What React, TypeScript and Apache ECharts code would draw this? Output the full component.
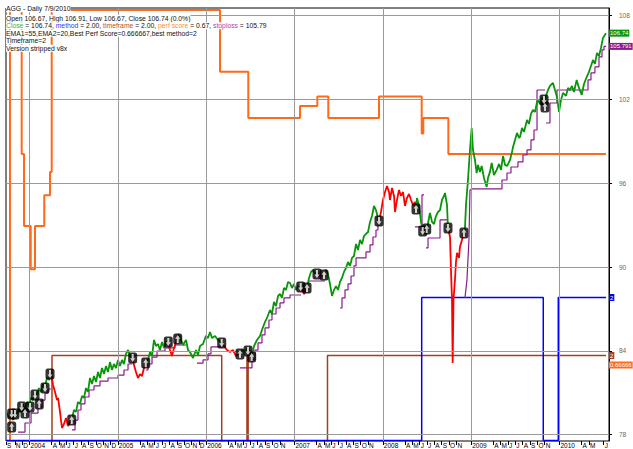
import React, { useEffect, useRef } from 'react';
import * as echarts from 'echarts';

const FONT = '"Liberation Sans", Arial, sans-serif';

// x axis: months since Sep 2003 (0 = 1 Sep 2003)
const xMin = 0.8;
const xMax = 82.73;
const priceMin = 77.55;
const priceMax = 108.54;
const priceTicks = [78, 84, 90, 96, 102, 108];
const yearStarts = [4, 16, 28, 40, 52, 64, 76];
const monthLetters = 'JFMAMJJASOND';
const hiddenMonthIdx = [1, 39, 51, 63, 75, 81];

// Close price [month, value]
const closePts: [number, number][] = [
  [0.94,79.55],[1.21,79.20],[1.48,79.77],[1.75,79.05],[2.02,79.63],[2.29,79.34],[2.57,79.91],[2.84,79.63],[3.11,80.20],[3.38,79.77],
  [3.65,80.34],[3.92,80.13],[4.20,80.63],[4.47,80.48],[4.74,81.06],[5.01,80.77],[5.28,81.34],[5.56,81.06],[5.83,81.63],[6.10,81.49],
  [6.37,82.06],[6.64,81.92],[6.91,82.49],[7.19,81.56],[7.46,81.06],[7.73,80.48],[7.87,80.63],[8.14,79.63],[8.27,79.05],[8.41,78.48],
  [8.68,78.77],[8.95,79.20],[9.22,78.62],[9.50,78.91],[9.77,79.20],[10.04,79.77],[10.31,79.63],[10.58,80.34],[10.85,80.20],[11.13,80.77],
  [11.40,80.63],[11.67,81.34],[11.94,81.06],[12.21,82.06],[12.48,81.63],[12.76,82.20],[13.03,81.77],[13.30,82.49],[13.57,82.06],[13.84,82.78],
  [14.12,82.35],[14.39,82.92],[14.66,82.49],[14.93,83.20],[15.20,82.63],[15.47,83.06],[15.75,82.77],[16.02,83.35],[16.29,82.92],[16.56,83.35],
  [16.83,83.06],[17.10,83.78],[17.38,84.06],[17.65,83.63],[17.92,83.49],[18.19,82.99],[18.46,82.49],[18.73,82.06],[19.01,82.34],[19.28,82.20],
  [19.55,82.78],[19.82,83.20],[20.09,83.35],[20.37,83.92],[20.64,83.63],[20.91,84.78],[21.18,84.35],[21.45,84.49],[21.72,84.06],[22.00,84.64],
  [22.27,84.21],[22.54,84.64],[22.81,84.64],[23.08,84.06],[23.35,83.63],[23.63,84.21],[23.90,84.64],[24.17,85.21],[24.44,84.99],[24.85,84.42],
  [25.26,84.78],[25.53,84.06],[25.80,83.92],[26.21,83.49],[26.62,84.06],[26.89,83.70],[27.16,84.35],[27.57,84.49],[27.97,85.07],[28.25,84.92],
  [28.52,85.35],[28.79,84.92],[29.20,85.07],[29.60,84.78],[30.01,84.64],[30.42,84.35],[30.83,84.06],[31.23,83.92],[31.64,84.06],[32.05,83.63],
  [32.46,83.85],[32.87,84.06],[33.27,83.92],[33.68,84.21],[33.95,83.92],[34.22,83.63],[34.50,84.35],[34.90,84.78],[35.31,85.07],[35.58,85.50],
  [35.99,86.07],[36.26,86.35],[36.67,86.93],[36.94,86.64],[37.21,87.50],[37.49,87.21],[37.76,87.93],[38.03,88.07],[38.30,87.79],[38.57,88.50],
  [38.84,88.36],[39.12,88.93],[39.39,88.86],[39.66,88.50],[39.93,88.79],[40.20,88.36],[40.47,88.64],[40.75,88.50],[41.02,88.36],[41.29,88.07],
  [41.70,88.50],[41.97,89.22],[42.24,89.65],[42.51,89.79],[42.78,89.50],[43.05,89.65],[43.33,89.36],[43.74,89.43],[44.01,89.65],[44.28,89.79],
  [44.55,89.50],[44.82,88.79],[45.09,87.93],[45.37,88.36],[45.64,88.64],[45.91,88.36],[46.18,88.93],[46.45,89.22],[46.72,89.65],[47.00,89.93],
  [47.27,90.36],[47.54,90.08],[47.81,90.65],[48.08,90.79],[48.36,91.65],[48.63,91.22],[48.90,91.94],[49.17,91.65],[49.44,92.22],[49.71,92.37],
  [49.99,92.51],[50.26,93.23],[50.53,93.65],[50.80,94.37],[51.07,94.08],[51.34,93.51],[51.48,93.30],[51.75,93.94],[52.02,94.80],[52.30,95.37],
  [52.57,95.80],[52.84,95.37],[52.97,94.80],[53.25,95.66],[53.52,95.09],[53.65,93.94],[53.92,94.80],[54.20,95.52],[54.47,95.09],[54.74,95.37],
  [55.01,94.37],[55.28,94.94],[55.56,95.23],[55.83,94.80],[56.10,94.44],[56.37,94.66],[56.51,94.16],[56.64,94.94],[56.92,94.37],[57.19,93.23],
  [57.46,92.65],[57.73,92.51],[58.00,92.72],[58.27,93.51],[58.41,93.87],[58.68,93.23],[58.95,93.08],[59.22,93.65],[59.50,93.94],[59.77,94.08],
  [60.04,94.80],[60.31,95.09],[60.45,95.30],[60.72,94.44],[60.85,92.80],[61.13,92.15],[61.26,89.79],[61.40,87.64],[61.49,83.13],[61.60,87.64],
  [61.80,89.07],[61.94,90.36],[62.08,91.01],[62.35,90.65],[62.48,91.44],[62.75,91.94],[63.02,92.44],[63.16,92.80],[63.30,94.44],[63.57,96.23],
  [63.84,98.38],[64.07,99.95],[64.25,98.38],[64.52,97.66],[64.75,96.73],[64.93,97.31],[65.20,96.81],[65.43,97.23],[65.74,96.38],[66.11,95.73],
  [66.29,96.38],[66.56,96.81],[66.79,97.45],[67.10,96.59],[67.47,96.95],[67.79,97.38],[68.06,96.95],[68.33,97.95],[68.60,97.31],[68.88,97.23],
  [69.28,97.66],[69.55,98.24],[69.69,98.59],[69.96,99.10],[70.23,99.60],[70.50,99.24],[70.64,99.31],[70.91,99.95],[71.18,99.67],[71.59,100.53],
  [71.86,100.24],[72.13,100.96],[72.40,101.24],[72.68,101.10],[72.95,101.82],[73.08,101.96],[73.35,101.67],[73.63,102.10],[73.90,101.96],[74.17,102.25],
  [74.44,102.67],[74.71,102.96],[75.12,103.18],[75.39,102.67],[75.66,102.17],[75.94,101.10],[76.21,101.96],[76.48,102.46],[76.89,102.25],[77.16,102.82],
  [77.43,102.67],[77.70,102.96],[77.97,102.53],[78.34,103.39],[78.65,102.82],[79.02,102.32],[79.33,103.10],[79.70,103.60],[80.01,103.96],[80.28,104.39],
  [80.55,104.82],[80.82,104.54],[81.10,105.32],[81.37,105.11],[81.64,105.68],[81.91,106.40],[82.32,106.74],
];

// periods where the close is drawn red [from month, to month]
const redSpans: [number, number][] = [
  [1.48,1.75],[2.84,3.11],[6.78,9.77],[17.92,19.82],[22.81,24.17],[30.01,32.46],[33.68,34.22],
  [40.75,41.70],[43.05,44.01],[51.48,56.51],[57.46,58.00],[60.85,63.02],
];

// stoploss segments
const stopSegs: [number, number][][] = [
  [[2.43,78.19],[3.38,78.19],[3.38,78.84],[4.20,78.84],[4.20,79.55],[5.15,79.55],[5.15,79.98],[5.69,79.98],[5.69,80.48],[6.10,80.48],[6.10,80.98],[6.51,80.98],[6.51,81.27],[6.91,81.27]],
  [[9.77,78.34],[10.18,78.34],[10.18,79.05],[10.58,79.05],[10.58,79.77],[10.99,79.77],[10.99,80.20],[11.53,80.20],[11.53,80.70],[12.08,80.70],[12.08,81.20],[12.76,81.20],[12.76,81.49],[13.57,81.49],[13.57,81.84],[14.66,81.84],[14.66,82.06],[16.02,82.06],[16.02,82.27],[16.83,82.27],[16.83,82.63],[17.38,82.63],[17.38,83.06],[17.92,83.06]],
  [[19.82,82.63],[20.09,82.63],[20.09,83.06],[20.64,83.06],[20.64,83.56],[21.32,83.56],[21.32,83.99],[22.40,83.99],[22.40,84.21],[23.76,84.21],[23.76,84.42],[25.26,84.42]],
  [[26.75,83.13],[27.57,83.13],[27.57,83.35],[28.25,83.35],[28.25,83.78],[28.65,83.78],[28.65,84.28],[30.14,84.28]],
  [[32.59,82.78],[34.22,82.78],[34.22,83.35],[34.63,83.35],[34.63,84.06],[35.04,84.06],[35.04,84.57],[35.58,84.57],[35.58,85.14],[35.99,85.14],[35.99,85.64],[36.53,85.64],[36.53,86.21],[36.94,86.21],[36.94,86.64],[37.49,86.64],[37.49,87.07],[38.03,87.07],[38.03,87.43],[38.57,87.43],[38.57,87.79],[39.39,87.79],[39.39,88.00],[40.88,88.00]],
  [[41.97,89.00],[44.15,89.00]],
  [[46.18,87.07],[46.45,87.07],[46.45,87.79],[46.86,87.79],[46.86,88.36],[47.27,88.36],[47.27,88.79],[47.68,88.79],[47.68,89.36],[48.08,89.36],[48.08,90.08],[48.36,90.08],[48.36,90.65],[49.71,90.65],[49.71,91.08],[50.26,91.08],[50.26,91.58],[50.66,91.58],[50.66,92.15],[51.07,92.15],[51.07,92.65],[51.34,92.65],[51.34,93.01],[51.62,93.01]],
  [[56.37,92.87],[57.32,92.87],[57.32,95.16],[57.60,95.16]],
  [[57.87,91.37],[58.14,91.37],[58.14,92.08],[59.77,92.08],[59.77,93.37],[60.72,93.37]],
  [[63.16,87.79],[63.43,89.07],[63.70,91.94],[63.84,95.52],[64.11,95.59],[68.19,95.59],[68.19,96.23],[68.87,96.23],[68.87,96.73],[69.41,96.73],[69.41,97.16],[70.36,97.16],[70.36,97.52],[71.04,97.52],[71.04,98.02],[71.59,98.02],[71.59,98.38],[72.13,98.38],[72.13,99.10],[72.54,99.10],[72.54,99.81],[72.95,99.81],[72.95,102.67],[74.03,102.67]],
  [[74.17,100.31],[74.71,100.31],[74.71,101.74],[75.66,101.74],[75.66,102.67],[79.88,102.67],[79.88,103.39],[80.28,103.39],[80.28,103.89],[80.82,103.89],[80.82,104.32],[81.37,104.32],[81.37,105.04],[81.78,105.04],[81.78,105.54],[82.05,105.54],[82.05,105.791],[82.32,105.791]],
];

// perf score change points [month, score]
const perfPts: [number, number][] = [
  [0.8,0],[1.34,1],[2.93,0.6667],[3.25,0.5],[4.16,0.4],[4.74,0.5],[6.0,0.5714],[6.78,0.625],[7.01,1],
  [29.88,0.8571],[33.72,0.75],[40.75,0.7778],[43.10,0.8],[44.59,0.75],[51.48,0.8],[57.28,0.7143],
  [57.50,0.75],[60.90,0.6667],[82.32,0.666667],
];
// method change points
const methodPts: [number, number][] = [[0.8,1],[57.28,2],[73.80,1],[75.84,2],[82.32,2]];
// timeframe change points
const timeframePts: [number, number][] = [[0.8,1],[7.05,2],[30.11,1],[33.54,2],[33.70,1],[44.48,2],[82.32,2]];

// trade signals [month, price]
const sellSignals: [number, number][] = [
  [1.57,79.48],[2.02,79.48],[2.93,79.98],[4.06,79.98],[4.74,80.84],[6.10,81.34],[6.78,82.34],[18.01,83.49],
  [22.85,84.64],[30.11,84.57],[33.68,83.99],[40.84,88.57],[43.05,89.50],[51.48,93.30],[57.42,92.58],[60.85,92.80],[73.90,101.96],
];
const buySignals: [number, number][] = [
  [1.57,78.55],[3.38,79.55],[5.32,80.20],[9.73,79.05],[19.78,83.13],[24.13,84.85],[32.59,83.78],[34.18,83.56],
  [41.70,88.50],[44.01,89.43],[56.51,94.16],[57.96,92.72],[63.02,92.44],[74.03,101.46],
];

const titleLines = {
  l1: 'AGG - Daily 7/9/2010',
  l2: 'Open 106.67, High 106.91, Low 106.67, Close 106.74 (0.0%)',
  l4: 'EMA1=55,EMA2=20,Best Perf Score=0.666667,best method=2',
  l5: 'Timeframe=2',
  l6: 'Version stripped v8x',
};

const ARROW = 'path://M5,0L10,5H7V11H3V5H0Z';

function buildOption() {
  const n = closePts.length;
  const segRed = (a: number, b: number) => {
    const mid = (a + b) / 2;
    return redSpans.some(([s, e]) => mid >= s && mid <= e);
  };
  const greenData: any[] = [];
  const redData: any[] = [];
  for (let i = 0; i < n; i++) {
    const p = closePts[i];
    const prev = i > 0 ? segRed(closePts[i - 1][0], p[0]) : null;
    const next = i < n - 1 ? segRed(p[0], closePts[i + 1][0]) : null;
    const inR = prev === true || next === true;
    const inG = prev === false || next === false;
    greenData.push(inG ? p : [p[0], '-']);
    redData.push(inR ? p : [p[0], '-']);
  }
  const stopData: any[] = [];
  stopSegs.forEach((seg, k) => {
    if (k > 0) stopData.push([seg[0][0], '-']);
    seg.forEach((pt) => stopData.push(pt));
  });

  const labelMonths: number[] = [xMin];
  for (let m = 1; m <= 82; m++) {
    const mo = (8 + m) % 12;
    if (mo === 1 || mo === 2) continue;
    if (hiddenMonthIdx.includes(m)) continue;
    labelMonths.push(m);
  }
  const monthFmt = (v: number) => {
    const k = Math.floor(v + 1e-9);
    const mo = (8 + k) % 12;
    const yr = 2003 + Math.floor((8 + k) / 12);
    return mo === 0 ? String(yr) : monthLetters[mo];
  };

  const lastClose = closePts[n - 1][1];
  const lastSeg = stopSegs[stopSegs.length - 1];
  const lastStop = lastSeg[lastSeg.length - 1][1];
  const lastPerf = perfPts[perfPts.length - 1][1];
  const lastMethod = methodPts[methodPts.length - 1][1];
  const lastTf = timeframePts[timeframePts.length - 1][1];

  const tFont = '6.8px ' + FONT;
  const rowTops = [5.3, 14.8, 22.3, 29.8, 37.3, 44.8];
  const txt = (text: string, top: number, extra: any = {}) => ({
    type: 'text', x: 6, y: top, z: 100, silent: true,
    style: { text, font: tFont, fill: '#111', backgroundColor: '#fff', verticalAlign: 'top', ...extra },
  });
  const row3 =
    `{g|Close} = ${lastClose.toFixed(2)}, {b|method} = ${lastMethod.toFixed(2)}, {t|timeframe} = ${lastTf.toFixed(2)}, ` +
    `{o|perf score} = ${lastPerf.toFixed(2)}, {p|stoploss} = ${lastStop.toFixed(2)}`;

  const endLbl = (bg: string, fmt: (p: any) => string, extra: any = {}) => ({
    show: true, formatter: fmt, color: '#fff', backgroundColor: bg, padding: [1, 1, 0, 1],
    fontSize: 6, fontFamily: FONT, distance: 3, ...extra,
  });

  return {
    animation: false,
    backgroundColor: '#fff',
    grid: { left: 6, right: 24, top: 8, bottom: 8, show: true, borderColor: '#000', borderWidth: 1 },
    xAxis: {
      type: 'value', min: xMin, max: xMax,
      axisLine: { show: false },
      axisTick: { show: true, customValues: labelMonths, length: 4, lineStyle: { color: '#000' } },
      axisLabel: {
        customValues: labelMonths, formatter: monthFmt, fontSize: 6.5, fontFamily: FONT, color: '#000',
        align: 'left', margin: 1, padding: [0, 0, 0, 1],
      },
      splitLine: { show: false },
    },
    yAxis: [
      {
        type: 'value', position: 'right', min: priceMin, max: priceMax,
        axisLine: { show: true, lineStyle: { color: '#000' } },
        axisTick: { show: true, customValues: priceTicks, length: 3, lineStyle: { color: '#000' } },
        axisLabel: { customValues: priceTicks, color: '#666', fontSize: 6.5, fontFamily: FONT, margin: 10, formatter: (v: number) => String(v) },
        splitLine: { show: false },
      },
      { type: 'value', show: false, min: 0.00231, max: 1.00463 },
      { type: 'value', show: false, min: 0.9965, max: 4.0245 },
      { type: 'value', show: false, min: 1.0229, max: 5.9714 },
    ],
    graphic: [
      txt(titleLines.l1, rowTops[0]),
      txt(titleLines.l2, rowTops[1]),
      txt(row3, rowTops[2], {
        rich: {
          g: { fill: '#33b833', font: tFont },
          b: { fill: '#3333ff', font: tFont },
          t: { fill: '#b5522a', font: tFont },
          o: { fill: '#ff8a3a', font: tFont },
          p: { fill: '#b13bb1', font: tFont },
        },
      }),
      txt(titleLines.l4, rowTops[3]),
      txt(titleLines.l5, rowTops[4]),
      txt(titleLines.l6, rowTops[5]),
    ],
    series: [
      {
        name: 'grid', type: 'line', data: [[xMin, priceMin]], showSymbol: false, lineStyle: { opacity: 0 }, z: 1, silent: true,
        markLine: {
          silent: true, symbol: ['none', 'none'], label: { show: false },
          lineStyle: { color: '#9a9a9a', type: 'solid', width: 1 },
          data: [...priceTicks.map((v) => ({ yAxis: v })), ...yearStarts.map((m) => ({ xAxis: m }))],
        },
      },
      {
        name: 'perf score', type: 'line', yAxisIndex: 1, data: perfPts, step: 'end', showSymbol: false, z: 2,
        lineStyle: { color: '#ff6a1a', width: 2 },
        endLabel: endLbl('#ff6a1a', (p) => String(p.value[1]).slice(0, 7), { offset: [0, 211] }),
      },
      {
        name: 'timeframe', type: 'line', yAxisIndex: 3, data: timeframePts, step: 'end', showSymbol: false, z: 2,
        lineStyle: { color: '#a3401c', width: 1.5 },
        endLabel: endLbl('#a3401c', (p) => String(p.value[1])),
      },
      {
        name: 'method', type: 'line', yAxisIndex: 2, data: methodPts, step: 'end', showSymbol: false, z: 2,
        lineStyle: { color: '#0000ff', width: 1.5 },
        endLabel: endLbl('#0000ff', (p) => String(p.value[1])),
      },
      {
        name: 'stoploss', type: 'line', data: stopData, showSymbol: false, connectNulls: false, z: 3,
        lineStyle: { color: '#8b1a8b', width: 1.2 },
        endLabel: endLbl('#8b1a8b', (p) => Number(p.value[1]).toFixed(3)),
      },
      {
        name: 'close', type: 'line', data: greenData, showSymbol: false, connectNulls: false, z: 4,
        lineStyle: { color: '#0a960a', width: 1.8 },
        endLabel: endLbl('#0a960a', (p) => Number(p.value[1]).toFixed(2)),
      },
      {
        name: 'close red', type: 'line', data: redData, showSymbol: false, connectNulls: false, z: 4,
        lineStyle: { color: '#ff0000', width: 1.8 },
      },
      {
        name: 'signals', type: 'scatter', data: [...sellSignals, ...buySignals], symbol: 'roundRect', symbolSize: [9, 11],
        itemStyle: { color: '#000' }, z: 5, silent: true,
      },
      {
        name: 'sell', type: 'scatter', data: sellSignals, symbol: ARROW, symbolRotate: 180, symbolSize: [5, 8],
        itemStyle: { color: '#fff' }, z: 6, silent: true,
      },
      {
        name: 'buy', type: 'scatter', data: buySignals, symbol: ARROW, symbolSize: [5, 8],
        itemStyle: { color: '#fff' }, z: 6, silent: true,
      },
    ],
  };
}

export default function App() {
  const ref = useRef<HTMLDivElement>(null);
  useEffect(() => {
    document.body.style.margin = '0';
    const chart = echarts.init(ref.current as HTMLDivElement, null, { renderer: 'svg' });
    chart.setOption(buildOption() as any);
    return () => chart.dispose();
  }, []);
  return <div ref={ref} style={{ width: 633, height: 449 }} />;
}
